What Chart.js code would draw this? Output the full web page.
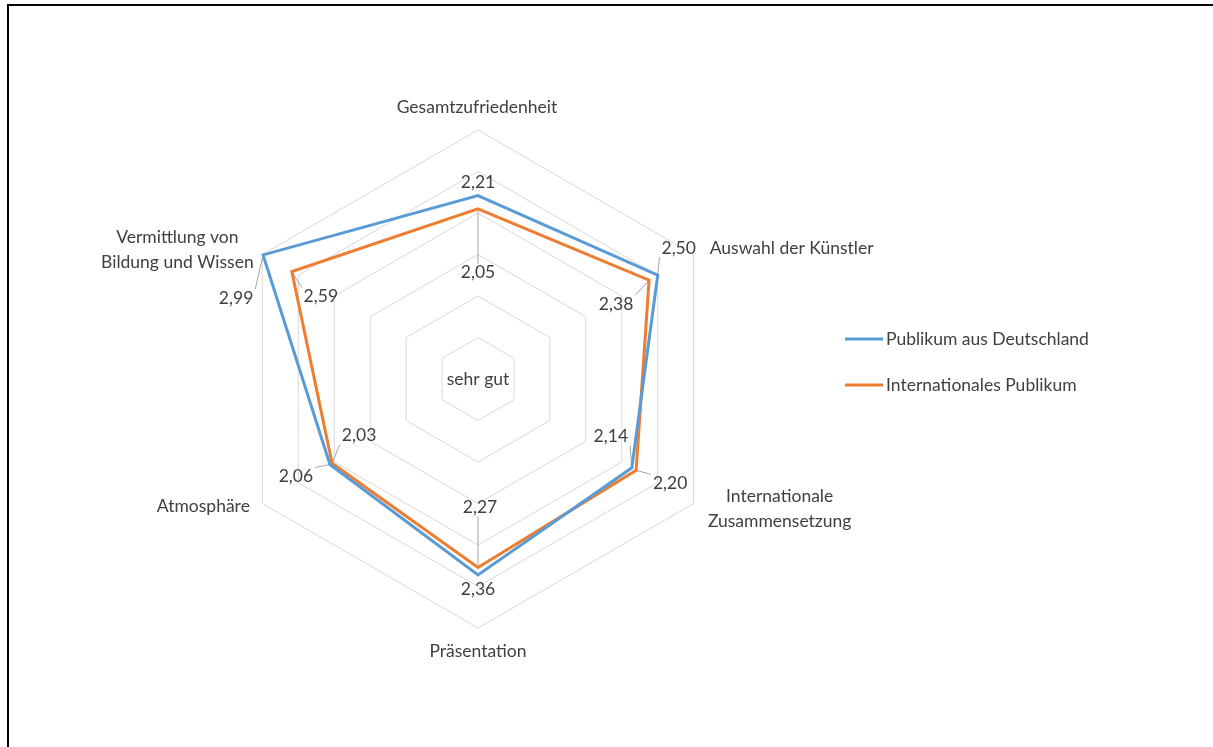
<!DOCTYPE html>
<html><head><meta charset="utf-8">
<script src="https://cdn.jsdelivr.net/npm/chart.js@4.4.1/dist/chart.umd.min.js"></script>
<style>
html,body{margin:0;padding:0;background:#fff;overflow:hidden}
#wrap{position:relative;width:1213px;height:747px}
#frame{position:absolute;left:7px;top:4px;width:1300px;height:800px;border-left:2px solid #000;border-top:2px solid #000;pointer-events:none}
canvas{position:absolute;left:0;top:0}
</style></head><body>
<div id="wrap"><canvas id="c" width="1213" height="747"></canvas><div id="frame"></div></div>
<script>
// ---- data ----
const categories = ['Gesamtzufriedenheit', 'Auswahl der Künstler', ['Internationale', 'Zusammensetzung'], 'Präsentation', 'Atmosphäre', ['Vermittlung von', 'Bildung und Wissen']];
const seriesNames = ['Publikum aus Deutschland', 'Internationales Publikum'];
const valuesDeutschland = [2.21, 2.50, 2.14, 2.36, 2.06, 2.99];
const valuesInternational = [2.05, 2.38, 2.20, 2.27, 2.03, 2.59];
const scaleMin = 0, scaleMax = 3, scaleStep = 0.5;
const centerLabel = 'sehr gut';

// ---- styles ----
const FONT = 'Lato, sans-serif';
const FS = 17.5;
const TEXT = '#404040';
const colors = ['#5B9BD5', '#ED7D31'];
const titleOffsets = [[-1, -23], [98, -6], [86, 5], [0, 23], [-59, 3], [-85, -5]];
const labelOffsets = [
  [[0, -13], [21, -27], [-21, -31], [0, 14], [-34, 12], [-27, 43]],
  [[0, 64], [-33, 24], [34, 13], [2, -60], [27, -28], [29, 25]]
];
const legendPos = {x: 845, lineW: 38, gap: 3, y0: 339, dy: 46};

const fmt = v => v.toFixed(2).replace('.', ',');

function labelPlugin() {
  return {
    id: 'custom',
    beforeDatasetsDraw(chart) {
      const ctx = chart.ctx, sc = chart.scales.r;
      ctx.save();
      ctx.font = FS + 'px ' + FONT;
      ctx.strokeStyle = '#a6a6a6'; ctx.lineWidth = 1;
      chart.data.datasets.forEach((ds, di) => {
        ds.data.forEach((v, i) => {
          const p = sc.getPointPositionForValue(i, v);
          const o = labelOffsets[di][i];
          const cx = p.x + o[0], cy = p.y + o[1];
          const w = ctx.measureText(fmt(v)).width / 2 + 2, h = 9;
          const nx = Math.max(cx - w, Math.min(p.x, cx + w));
          const ny = Math.max(cy - h, Math.min(p.y, cy + h));
          const d = Math.hypot(nx - p.x, ny - p.y);
          if (d > 8) { ctx.beginPath(); ctx.moveTo(p.x, p.y); ctx.lineTo(nx, ny); ctx.stroke(); }
        });
      });
      ctx.restore();
    },
    afterDatasetsDraw(chart) {
      const ctx = chart.ctx, sc = chart.scales.r;
      ctx.save();
      ctx.fillStyle = TEXT;
      ctx.font = FS + 'px ' + FONT;
      ctx.textAlign = 'center'; ctx.textBaseline = 'middle';
      chart.data.datasets.forEach((ds, di) => {
        ds.data.forEach((v, i) => {
          const p = sc.getPointPositionForValue(i, v);
          const o = labelOffsets[di][i];
          ctx.fillText(fmt(v), p.x + o[0], p.y + o[1]);
        });
      });
      chart.data.labels.forEach((lab, i) => {
        const p = sc.getPointPosition(i, sc.drawingArea);
        const lines = Array.isArray(lab) ? lab : [lab];
        const lh = 25;
        const x = p.x + titleOffsets[i][0], y = p.y + titleOffsets[i][1];
        lines.forEach((t, k) => ctx.fillText(t, x, y + (k - (lines.length - 1) / 2) * lh));
      });
      ctx.fillText(centerLabel, sc.xCenter, sc.yCenter);
      ctx.textAlign = 'left';
      chart.data.datasets.forEach((ds, di) => {
        const y = legendPos.y0 + di * legendPos.dy;
        ctx.strokeStyle = ds.borderColor; ctx.lineWidth = 3;
        ctx.beginPath(); ctx.moveTo(legendPos.x, y); ctx.lineTo(legendPos.x + legendPos.lineW, y); ctx.stroke();
        ctx.fillText(ds.label, legendPos.x + legendPos.lineW + legendPos.gap, y);
      });
      ctx.restore();
    }
  };
}

new Chart(document.getElementById('c'), {
  type: 'radar',
  data: {
    labels: categories,
    datasets: [
      {label: seriesNames[0], data: valuesDeutschland, borderColor: colors[0], backgroundColor: colors[0], borderWidth: 3, pointRadius: 0, fill: false, tension: 0},
      {label: seriesNames[1], data: valuesInternational, borderColor: colors[1], backgroundColor: colors[1], borderWidth: 3, pointRadius: 0, fill: false, tension: 0}
    ]
  },
  options: {
    responsive: false,
    animation: false,
    layout: {padding: {left: 229, top: 130, right: 486, bottom: 119}},
    plugins: {legend: {display: false}, tooltip: {enabled: false}},
    scales: {
      r: {
        min: scaleMin, max: scaleMax,
        ticks: {display: false, stepSize: scaleStep},
        grid: {color: '#d9d9d9', lineWidth: 1},
        angleLines: {display: false},
        pointLabels: {display: false}
      }
    }
  },
  plugins: [labelPlugin()]
});
</script>
</body></html>
